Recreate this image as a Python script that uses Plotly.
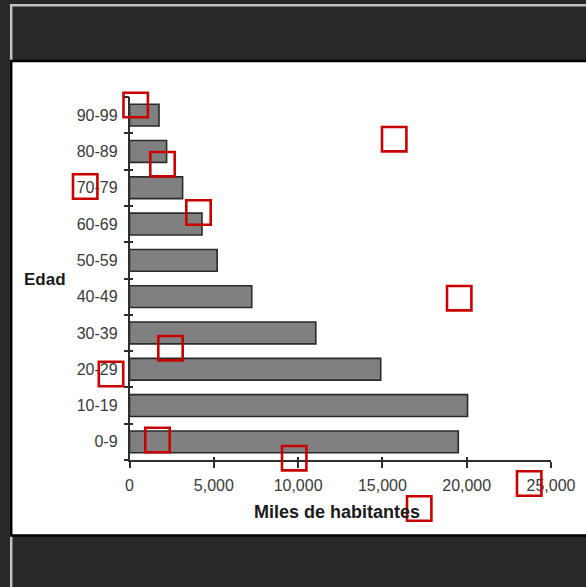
import plotly.graph_objects as go

# Population by age group (thousands of inhabitants)
age_groups = ["0-9", "10-19", "20-29", "30-39", "40-49",
              "50-59", "60-69", "70-79", "80-89", "90-99"]
inhabitants = [19500, 20050, 14900, 11050, 7250, 5200, 4300, 3150, 2200, 1750]
x_ticks = [0, 5000, 10000, 15000, 20000, 25000]

W, H = 586, 587


def px(x):
    return x / W


def py(y):
    return 1 - y / H


positions = list(range(len(age_groups)))
boundaries = [i - 0.5 for i in range(len(age_groups) + 1)]

AXIS_COLOR = "#2e2e2e"
FONT = "Liberation Sans, Arial, sans-serif"

x_dom = [px(129.5), px(551)]
y_dom = [py(460), py(97)]

fig = go.Figure()
fig.add_trace(go.Bar(
    x=inhabitants, y=positions, orientation="h", width=0.6,
    marker=dict(color="#808080", line=dict(color="#2a2a2a", width=1.6)),
    hoverinfo="x", showlegend=False,
))
# helper traces so the overlay axes (inner tick marks) are rendered
fig.add_trace(go.Scatter(x=[None], y=[None], xaxis="x2", yaxis="y2", showlegend=False))
fig.add_trace(go.Scatter(x=[None], y=[None], xaxis="x", yaxis="y3", showlegend=False))

common_x = dict(range=[0, 25000], domain=x_dom, showgrid=False, zeroline=False,
                fixedrange=True, automargin=False)
common_y = dict(range=[-0.5, 9.5], domain=y_dom, showgrid=False, zeroline=False,
                fixedrange=True, automargin=False)

fig.update_layout(
    template="none",
    autosize=False,
    width=W, height=H,
    margin=dict(l=0, r=0, t=0, b=0, pad=0),
    paper_bgcolor="#282828",
    plot_bgcolor="rgba(0,0,0,0)",
    font=dict(family=FONT, color="#333333", size=16),
    xaxis=dict(**common_x, anchor="y", tickvals=x_ticks, tickformat=",d",
               ticks="outside", ticklen=6, tickwidth=1.5, tickcolor=AXIS_COLOR,
               showline=True, linecolor=AXIS_COLOR, linewidth=1.5,
               tickfont=dict(size=16, color="#3a3a3a"), ticklabelstandoff=4),
    xaxis2=dict(**common_x, overlaying="x", anchor="y", tickvals=x_ticks,
                ticks="inside", ticklen=3, tickwidth=1.5, tickcolor=AXIS_COLOR,
                showticklabels=False, showline=False),
    yaxis=dict(**common_y, anchor="x", tickvals=positions, ticktext=age_groups,
               ticks="outside", ticklen=5, tickcolor="rgba(0,0,0,0)",
               showline=True, linecolor=AXIS_COLOR, linewidth=1.5,
               tickfont=dict(size=16, color="#3a3a3a"), ticklabelstandoff=2),
    yaxis2=dict(**common_y, overlaying="y", anchor="x", tickvals=boundaries,
                ticks="outside", ticklen=5, tickwidth=1.5, tickcolor=AXIS_COLOR,
                showticklabels=False, showline=False),
    yaxis3=dict(**common_y, overlaying="y", anchor="x", tickvals=boundaries,
                ticks="inside", ticklen=3, tickwidth=1.5, tickcolor=AXIS_COLOR,
                showticklabels=False, showline=False),
)

shapes = [
    # outer frame line
    dict(type="rect", xref="paper", yref="paper",
         x0=px(11.2), x1=px(620), y0=py(5.3), y1=py(620),
         line=dict(color="#c4c4c4", width=2.5), fillcolor="rgba(0,0,0,0)", layer="below"),
    # white chart panel
    dict(type="rect", xref="paper", yref="paper",
         x0=px(11.2), x1=px(620), y0=py(61), y1=py(535.5),
         line=dict(color="#000000", width=2.5), fillcolor="#ffffff", layer="below"),
]

# highlight boxes (centre x, centre y in pixels)
box_centres = [
    (135.7, 105), (162.5, 164.2), (85.2, 186.5), (198.5, 212.5),
    (394.2, 139.2), (459.2, 298.2), (170.5, 348.2), (111, 374),
    (157.5, 440), (294.2, 458.2), (529.2, 483.5), (419.2, 508.5),
]
half = 12.2
for cx, cy in box_centres:
    shapes.append(dict(type="rect", xref="paper", yref="paper",
                       x0=px(cx - half), x1=px(cx + half),
                       y0=py(cy + half), y1=py(cy - half),
                       line=dict(color="#c80000", width=2.6),
                       fillcolor="rgba(0,0,0,0)", layer="above"))
fig.update_layout(shapes=shapes)

fig.add_annotation(text="<b>Miles de habitantes</b>", xref="paper", yref="paper",
                   x=px(337), y=py(512), xanchor="center", yanchor="middle",
                   showarrow=False, font=dict(size=18, color="#1a1a1a"))
fig.add_annotation(text="<b>Edad</b>", xref="paper", yref="paper",
                   x=px(44.5), y=py(279), xanchor="center", yanchor="middle",
                   showarrow=False, font=dict(size=17, color="#1a1a1a"))

fig.write_html("out.html")
